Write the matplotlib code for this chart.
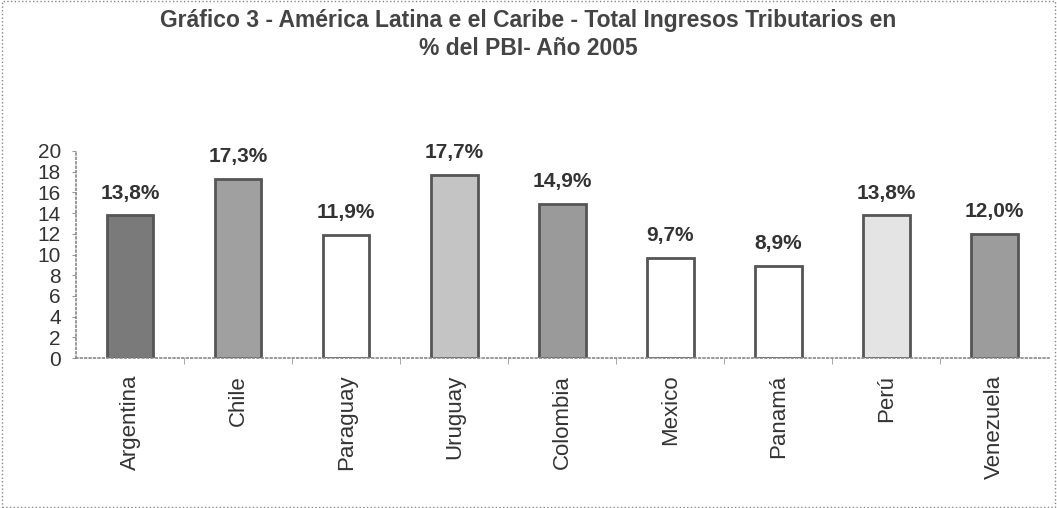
import matplotlib.pyplot as plt

plt.rcParams['font.family'] = ['Liberation Sans', 'DejaVu Sans']

# datos
paises = ['Argentina', 'Chile', 'Paraguay', 'Uruguay', 'Colombia',
          'Mexico', 'Panamá', 'Perú', 'Venezuela']
valores = [13.8, 17.3, 11.9, 17.7, 14.9, 9.7, 8.9, 13.8, 12.0]
etiquetas = ['13,8%', '17,3%', '11,9%', '17,7%', '14,9%',
             '9,7%', '8,9%', '13,8%', '12,0%']
colores = ['#7a7a7a', '#a0a0a0', '#ffffff', '#c4c4c4', '#9a9a9a',
           '#ffffff', '#ffffff', '#e4e4e4', '#9c9c9c']
yticks = list(range(0, 21, 2))

fig = plt.figure(figsize=(10.57, 5.08), dpi=100)
ax = fig.add_axes([0.072, 0.295, 0.92, 0.408])

x = range(len(paises))
bars = ax.bar(x, valores, width=0.43, color=colores, edgecolor='#555555',
              linewidth=2)

for xi, v, t in zip(x, valores, etiquetas):
    ax.text(xi, v + 1.2, t, ha='center', va='bottom', fontsize=15,
            fontweight='bold', color='#333333')

ax.set_xlim(-0.5, len(paises) - 0.5)
ax.set_ylim(0, 20)
ax.set_yticks(yticks)
ax.set_yticklabels([str(t) for t in yticks], fontsize=15, color='#333333')
ax.set_xticks(list(x))
ax.set_xticklabels(paises, rotation=90, fontsize=16, color='#333333')
ax.tick_params(axis='x', length=0, pad=12)
ax.tick_params(axis='y', length=3, pad=8, color='#999999')
# marcas menores entre categorias
ax.set_xticks([i + 0.5 for i in range(len(paises) - 1)], minor=True)
ax.tick_params(axis='x', which='minor', length=4, color='#999999')

for s in ['top', 'right']:
    ax.spines[s].set_visible(False)
for s in ['left', 'bottom']:
    ax.spines[s].set_linestyle(':')
    ax.spines[s].set_color('#888888')
    ax.spines[s].set_linewidth(1.2)

fig.text(0.5, 0.96, 'Gráfico 3 - América Latina e el Caribe - Total Ingresos Tributarios en',
         ha='center', va='center', fontsize=16.5, fontweight='bold', color='#444444')
fig.text(0.5, 0.905, '% del PBI- Año 2005',
         ha='center', va='center', fontsize=16.5, fontweight='bold', color='#444444')

# marco punteado exterior
borde = plt.Rectangle((0.002, 0.002), 0.996, 0.996, transform=fig.transFigure,
                      fill=False, linestyle=':', edgecolor='#888888', linewidth=1)
fig.patches.append(borde)

fig.savefig('out.png', dpi=100)
